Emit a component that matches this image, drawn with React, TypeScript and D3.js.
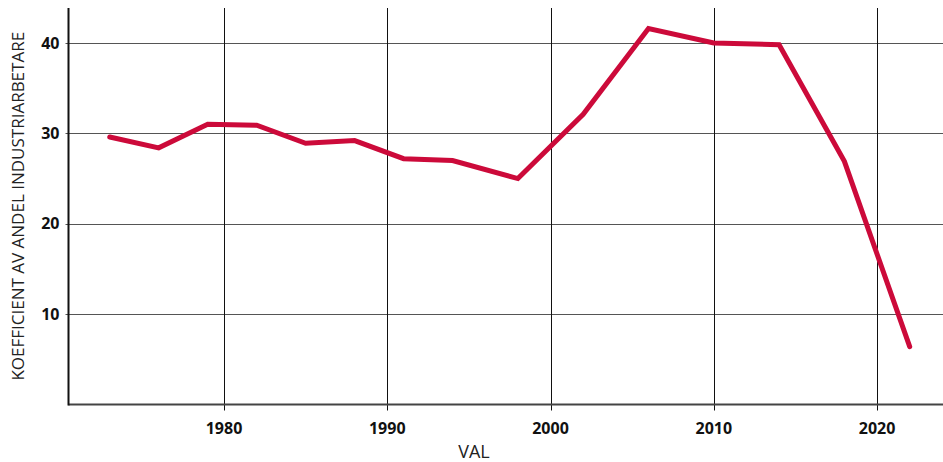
import React from "react";
import * as d3 from "d3";

// valår och koefficient
const years = [1973, 1976, 1979, 1982, 1985, 1988, 1991, 1994, 1998, 2002, 2006, 2010, 2014, 2018, 2022];
const values = [29.6, 28.4, 31.0, 30.9, 28.9, 29.2, 27.2, 27.0, 25.0, 32.1, 41.6, 40.0, 39.8, 26.9, 6.4];
const xTicks = [1980, 1990, 2000, 2010, 2020];
const yTicks = [10, 20, 30, 40];

const W = 943;
const H = 462;
const left = 68.5;
const right = 943;
const top = 8;
const bottom = 404.5;

export default function App() {
  const x = d3.scaleLinear().domain([1970.475, 2024.04]).range([left, right]);
  const y = d3.scaleLinear().domain([0, 43.87]).range([bottom, top]);

  const line = d3
    .line<number>()
    .x((d, i) => x(years[i]))
    .y((d) => y(d));

  const font = "'Open Sans', 'Noto Sans', sans-serif";

  return (
    <svg width={W} height={H} style={{ position: "absolute", left: 0, top: 0 }}>
      <rect width={W} height={H} fill="#fff" />
      {/* horisontella stödlinjer */}
      {yTicks.map((t) => (
        <g key={"y" + t}>
          <line x1={left - 3} x2={right} y1={Math.round(y(t)) + 0.5} y2={Math.round(y(t)) + 0.5} stroke="#555" strokeWidth={1} />
          <text
            x={left - 9}
            y={y(t)}
            dy="0.36em"
            textAnchor="end"
            fontFamily={font}
            fontWeight="bold"
            fontSize={16}
            fill="#111"
          >
            {t}
          </text>
        </g>
      ))}
      {/* vertikala stödlinjer */}
      {xTicks.map((t) => (
        <g key={"x" + t}>
          <line x1={Math.round(x(t)) + 0.5} x2={Math.round(x(t)) + 0.5} y1={top} y2={bottom + 6} stroke="#111" strokeWidth={1} />
          <text
            x={x(t)}
            y={bottom + 29}
            textAnchor="middle"
            fontFamily={font}
            fontWeight="bold"
            fontSize={16}
            fill="#111"
          >
            {t}
          </text>
        </g>
      ))}
      {/* axlar */}
      <line x1={left} x2={right} y1={bottom} y2={bottom} stroke="#444" strokeWidth={2} />
      <line x1={left} x2={left} y1={top} y2={bottom + 1} stroke="#111" strokeWidth={2} />

      <path d={line(values) ?? ""} fill="none" stroke="#cc0a3a" strokeWidth={5} strokeLinejoin="miter" strokeLinecap="round" />

      <text x={474} y={458} textAnchor="middle" fontFamily={font} fontSize={18} fill="#222">
        VAL
      </text>
      <text
        transform={`translate(24, ${(top + bottom) / 2}) rotate(-90)`}
        textAnchor="middle"
        fontFamily={font}
        fontSize={17}
        fill="#222"
      >
        KOEFFICIENT AV ANDEL INDUSTRIARBETARE
      </text>
    </svg>
  );
}
